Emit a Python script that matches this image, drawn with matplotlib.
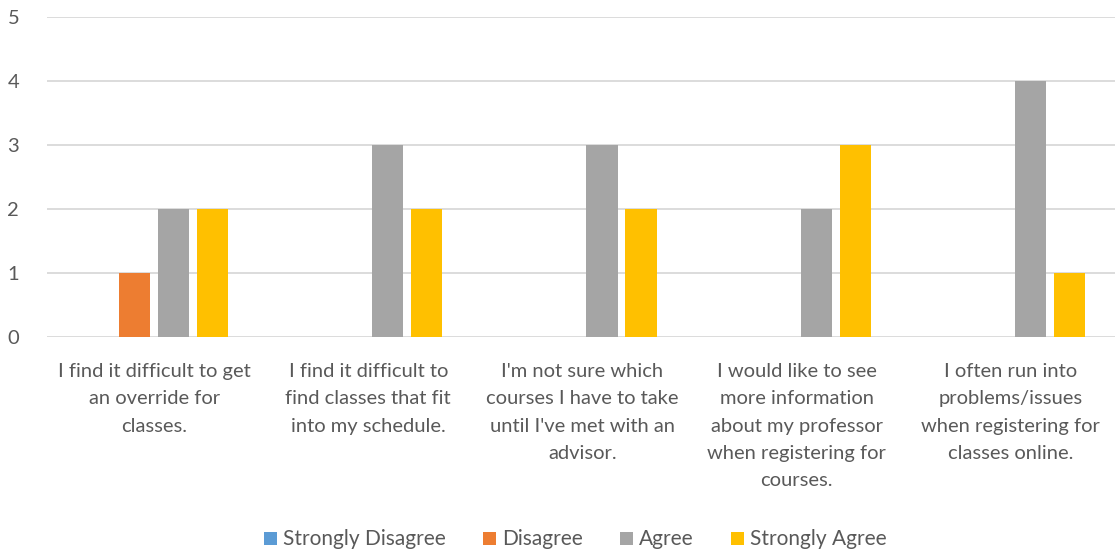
import numpy as np
import matplotlib
matplotlib.use('Agg')
import matplotlib.pyplot as plt

plt.rcParams['font.family'] = ['Lato', 'DejaVu Sans']

categories = [
    "I find it difficult to get\nan override for\nclasses.",
    "I find it difficult to\nfind classes that fit\ninto my schedule.",
    "I'm not sure which\ncourses I have to take\nuntil I've met with an\nadvisor.",
    "I would like to see\nmore information\nabout my professor\nwhen registering for\ncourses.",
    "I often run into\nproblems/issues\nwhen registering for\nclasses online.",
]
series_names = ["Strongly Disagree", "Disagree", "Agree", "Strongly Agree"]
strongly_disagree = [0, 0, 0, 0, 0]
disagree = [1, 0, 0, 0, 0]
agree = [2, 3, 3, 2, 4]
strongly_agree = [2, 2, 2, 3, 1]
colors = ['#5B9BD5', '#ED7D31', '#A5A5A5', '#FFC000']

text_color = '#595959'

fig = plt.figure(figsize=(11.15, 5.55), dpi=100)
ax = fig.add_axes([47/1115, 1 - 337/555, 1071/1115, 320/555])

x = np.arange(len(categories))
spacing = 0.182
width = 0.145
all_series = [strongly_disagree, disagree, agree, strongly_agree]
for i, (name, vals) in enumerate(zip(series_names, all_series)):
    ax.bar(x + (i - 1.5) * spacing, vals, width, color=colors[i], label=name, zorder=3)

ax.set_xlim(-0.5, 4.5)
ax.set_ylim(0, 5)
ax.set_yticks(range(6))
ax.yaxis.grid(True, color='#D9D9D9', linewidth=1.3, zorder=0)
for s in ax.spines.values():
    s.set_visible(False)
ax.tick_params(axis='both', length=0, colors=text_color, labelsize=14.5)
ax.tick_params(axis='y', pad=20)
ax.set_xticks(x)
ax.set_xticklabels(categories, linespacing=1.72, va='top')
ax.tick_params(axis='x', pad=19)

handles, labels = ax.get_legend_handles_labels()
fig.legend(handles, labels, loc='center', bbox_to_anchor=(0.516, 0.028), ncol=4,
           frameon=False, fontsize=15, labelcolor=text_color,
           handlelength=0.6, handleheight=0.6, handletextpad=0.3, columnspacing=1.8)

fig.savefig('out.png', dpi=100)
